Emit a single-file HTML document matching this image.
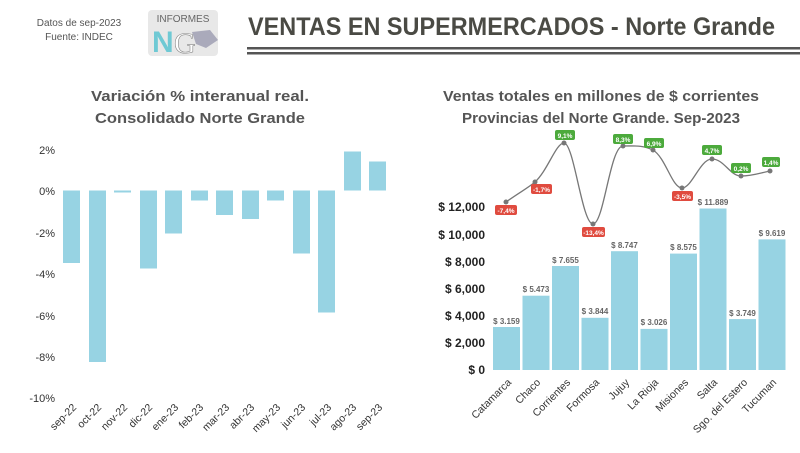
<!DOCTYPE html>
<html><head><meta charset="utf-8"><style>
body{margin:0;background:#fff;}
svg{display:block;font-family:"Liberation Sans",sans-serif;}
</style></head><body>
<svg width="800" height="453" viewBox="0 0 800 453" xmlns="http://www.w3.org/2000/svg">
<rect width="800" height="453" fill="#fff"/>
<text x="79" y="26" font-size="10" fill="#555" text-anchor="middle">Datos de sep-2023</text>
<text x="79" y="40" font-size="10" fill="#555" text-anchor="middle">Fuente: INDEC</text>
<rect x="148" y="10" width="70" height="46" rx="4" fill="#e8e8e8"/>
<text x="183" y="22" font-size="10" fill="#666" text-anchor="middle">INFORMES</text>
<text x="152" y="52" font-size="30" font-weight="bold" fill="#6fc9d4">N</text>
<text x="174" y="53" font-size="30" font-family="Liberation Serif" fill="#fff" stroke="#888" stroke-width="0.6">G</text>
<path d="M192 32 L210 30 L218 40 L206 48 L196 44 Z" fill="#aab"/>
<text x="248" y="35" font-size="25" font-weight="bold" fill="#4a4a44" textLength="527" lengthAdjust="spacingAndGlyphs">VENTAS EN SUPERMERCADOS - Norte Grande</text>
<rect x="247" y="47" width="553" height="2.5" fill="#555"/>
<rect x="247" y="52" width="553" height="2.5" fill="#555"/>
<text x="200" y="101" font-size="15" font-weight="bold" fill="#555" text-anchor="middle" textLength="218" lengthAdjust="spacingAndGlyphs">Variación % interanual real.</text>
<text x="200" y="123" font-size="15" font-weight="bold" fill="#555" text-anchor="middle" textLength="210" lengthAdjust="spacingAndGlyphs">Consolidado Norte Grande</text>
<text x="601" y="101" font-size="15" font-weight="bold" fill="#555" text-anchor="middle" textLength="316" lengthAdjust="spacingAndGlyphs">Ventas totales en millones de $ corrientes</text>
<text x="601" y="123" font-size="15" font-weight="bold" fill="#555" text-anchor="middle" textLength="278" lengthAdjust="spacingAndGlyphs">Provincias del Norte Grande. Sep-2023</text>
<g font-size="11" fill="#333" text-anchor="end">
<text x="55" y="154">2%</text><text x="55" y="195">0%</text><text x="55" y="237">-2%</text><text x="55" y="278">-4%</text><text x="55" y="320">-6%</text><text x="55" y="361">-8%</text><text x="55" y="402">-10%</text>
</g>
<g fill="#97d3e3">
<rect x="63" y="190.5" width="17" height="72.5"/>
<rect x="89" y="190.5" width="17" height="171.5"/>
<rect x="114" y="190.5" width="17" height="2"/>
<rect x="140" y="190.5" width="17" height="78"/>
<rect x="165" y="190.5" width="17" height="43"/>
<rect x="191" y="190.5" width="17" height="10"/>
<rect x="216" y="190.5" width="17" height="24.5"/>
<rect x="242" y="190.5" width="17" height="28.5"/>
<rect x="267" y="190.5" width="17" height="10"/>
<rect x="293" y="190.5" width="17" height="63"/>
<rect x="318" y="190.5" width="17" height="122"/>
<rect x="344" y="151.5" width="17" height="39"/>
<rect x="369" y="161.5" width="17" height="29"/>
</g>
<g font-size="10.5" fill="#333" text-anchor="end">
<text transform="translate(77,408) rotate(-45)">sep-22</text>
<text transform="translate(102,408) rotate(-45)">oct-22</text>
<text transform="translate(128,408) rotate(-45)">nov-22</text>
<text transform="translate(153,408) rotate(-45)">dic-22</text>
<text transform="translate(179,408) rotate(-45)">ene-23</text>
<text transform="translate(204,408) rotate(-45)">feb-23</text>
<text transform="translate(230,408) rotate(-45)">mar-23</text>
<text transform="translate(255,408) rotate(-45)">abr-23</text>
<text transform="translate(281,408) rotate(-45)">may-23</text>
<text transform="translate(306,408) rotate(-45)">jun-23</text>
<text transform="translate(332,408) rotate(-45)">jul-23</text>
<text transform="translate(357,408) rotate(-45)">ago-23</text>
<text transform="translate(383,408) rotate(-45)">sep-23</text>
</g>
<g font-size="12" font-weight="bold" fill="#222" text-anchor="end">
<text x="485" y="211">$ 12,000</text><text x="485" y="239">$ 10,000</text><text x="485" y="266">$ 8,000</text><text x="485" y="293">$ 6,000</text><text x="485" y="320">$ 4,000</text><text x="485" y="347">$ 2,000</text><text x="485" y="374">$ 0</text>
</g>
<g fill="#97d3e3">
<rect x="493" y="327" width="27" height="43"/>
<rect x="522.5" y="295.7" width="27" height="74.3"/>
<rect x="552" y="266" width="27" height="104"/>
<rect x="581.5" y="317.8" width="27" height="52.2"/>
<rect x="611" y="251.2" width="27" height="118.8"/>
<rect x="640.5" y="328.9" width="27" height="41.1"/>
<rect x="670" y="253.6" width="27" height="116.4"/>
<rect x="699.5" y="208.5" width="27" height="161.5"/>
<rect x="729" y="319.1" width="27" height="50.9"/>
<rect x="758.5" y="239.4" width="27" height="130.6"/>
</g>
<g font-size="8" font-weight="bold" fill="#666" text-anchor="middle">
<text x="506.5" y="324">$ 3.159</text>
<text x="536" y="292">$ 5.473</text>
<text x="565.5" y="263">$ 7.655</text>
<text x="595" y="314">$ 3.844</text>
<text x="624.5" y="248">$ 8.747</text>
<text x="654" y="325">$ 3.026</text>
<text x="683.5" y="250">$ 8.575</text>
<text x="713" y="205">$ 11.889</text>
<text x="742.5" y="316">$ 3.749</text>
<text x="772" y="236">$ 9.619</text>
</g>
<g font-size="10.5" fill="#333" text-anchor="end">
<text transform="translate(512,383) rotate(-45)">Catamarca</text>
<text transform="translate(541,383) rotate(-45)">Chaco</text>
<text transform="translate(571,383) rotate(-45)">Corrientes</text>
<text transform="translate(600,383) rotate(-45)">Formosa</text>
<text transform="translate(630,383) rotate(-45)">Jujuy</text>
<text transform="translate(659,383) rotate(-45)">La Rioja</text>
<text transform="translate(689,383) rotate(-45)">Misiones</text>
<text transform="translate(718,383) rotate(-45)">Salta</text>
<text transform="translate(748,383) rotate(-45)">Sgo. del Estero</text>
<text transform="translate(777,383) rotate(-45)">Tucuman</text>
</g>
<path d="M506 202 C520 192 528 188 535 182 C548 170 556 143 564 143 C574 143 582 224 593 224 C604 224 610 146 623 146 C636 146 642 145 653 150 C666 158 672 188 682 188 C692 188 700 159 712 159 C724 159 730 176 741 176 C752 176 760 173 770 171" fill="none" stroke="#777" stroke-width="1.3"/>
<g fill="#777">
<circle cx="506" cy="202" r="2.5"/><circle cx="535" cy="182" r="2.5"/><circle cx="564" cy="143" r="2.5"/><circle cx="593" cy="224" r="2.5"/><circle cx="623" cy="146" r="2.5"/><circle cx="653" cy="150" r="2.5"/><circle cx="682" cy="188" r="2.5"/><circle cx="712" cy="159" r="2.5"/><circle cx="741" cy="176" r="2.5"/><circle cx="770" cy="171" r="2.5"/>
</g>
<g font-size="6.5" font-weight="bold" fill="#fff" text-anchor="middle">
<rect x="495" y="205" width="22" height="10" rx="2" fill="#e04b3f"/><text x="506" y="213">-7,4%</text>
<rect x="531" y="184" width="21" height="10" rx="2" fill="#e04b3f"/><text x="541.5" y="192">-1,7%</text>
<rect x="555" y="130" width="20" height="10" rx="2" fill="#4caa3c"/><text x="565" y="138">9,1%</text>
<rect x="582" y="227" width="23" height="10" rx="2" fill="#e04b3f"/><text x="593.5" y="235">-13,4%</text>
<rect x="613" y="134" width="20" height="10" rx="2" fill="#4caa3c"/><text x="623" y="142">8,3%</text>
<rect x="644" y="138" width="20" height="10" rx="2" fill="#4caa3c"/><text x="654" y="146">6,9%</text>
<rect x="672" y="191" width="21" height="10" rx="2" fill="#e04b3f"/><text x="682.5" y="199">-3,5%</text>
<rect x="702" y="145" width="20" height="10" rx="2" fill="#4caa3c"/><text x="712" y="153">4,7%</text>
<rect x="731" y="163" width="20" height="10" rx="2" fill="#4caa3c"/><text x="741" y="171">0,2%</text>
<rect x="762" y="157" width="18" height="10" rx="2" fill="#4caa3c"/><text x="771" y="165">1,4%</text>
</g>
</svg>
</body></html>
